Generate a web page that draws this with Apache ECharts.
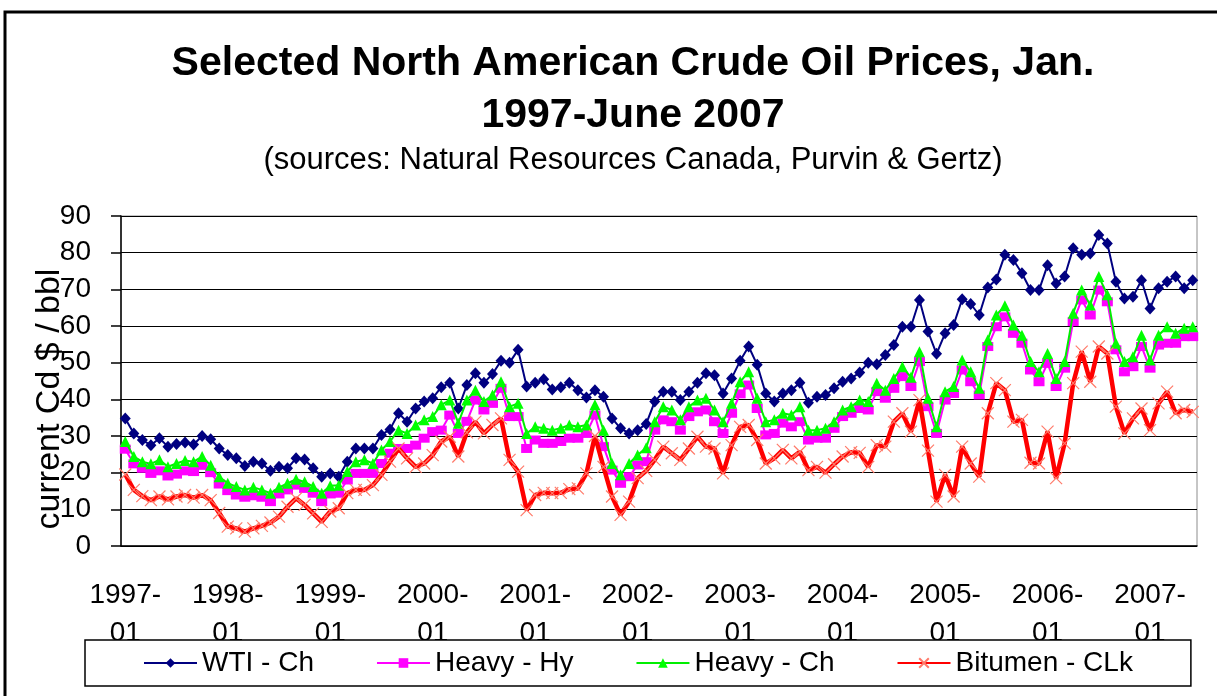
<!DOCTYPE html>
<html>
<head>
<meta charset="utf-8">
<script src="https://cdn.jsdelivr.net/npm/echarts@6/dist/echarts.min.js"></script>
<style>
html,body{margin:0;padding:0;background:#fff;}
#chart{width:1217px;height:696px;}
</style>
</head>
<body>
<div id="chart"></div>
<script>
// Monthly categories Jan 1997 .. Jun 2007
var startYear = 1997, endYear = 2007, endMonth = 6;
var categories = [];
for (var y = startYear; y <= endYear; y++) {
  for (var m = 1; m <= 12; m++) {
    if (y === endYear && m > endMonth) break;
    categories.push(y + '-' + (m < 10 ? '0' + m : '' + m));
  }
}

var yTicks = [0, 10, 20, 30, 40, 50, 60, 70, 80, 90];

var wtiCh = [
34.8,30.7,28.9,27.5,29.4,27.1,27.8,28.2,27.7,30.0,29.1,26.6,
24.8,23.9,21.8,23.0,22.5,20.5,21.6,21.2,23.9,23.6,21.2,18.9,
19.8,18.9,23.0,26.6,26.6,26.6,30.3,31.8,36.2,33.9,37.5,39.4,
40.3,43.3,44.5,37.5,43.9,47.1,44.5,46.9,50.5,50.0,53.5,43.5,
44.5,45.5,42.7,43.3,44.5,42.5,40.5,42.5,40.7,34.8,32.1,30.7,
31.6,33.3,39.4,42.1,42.1,39.8,42.1,44.5,47.1,46.6,41.6,45.7,
50.5,54.4,49.4,41.6,39.4,41.6,42.5,44.5,39.1,40.7,41.2,43.0,
44.8,45.7,47.3,50.0,49.6,52.1,54.8,59.8,59.8,67.1,58.5,52.4,
58.0,60.3,67.3,66.0,63.0,70.5,72.7,79.4,78.0,74.4,69.8,69.8,
76.6,71.6,73.5,81.2,79.4,79.8,84.8,82.5,72.1,67.5,68.0,72.5,
64.8,70.3,72.1,73.5,70.3,72.5
];

var heavyHy = [
26.4,22.4,21.2,19.8,20.5,19.1,19.6,20.5,20.3,22.0,20.0,16.9,
15.1,13.9,13.3,13.7,13.3,12.1,14.2,15.3,16.6,15.7,14.4,12.1,
14.2,14.4,18.0,19.8,19.8,19.8,22.5,25.3,26.6,26.6,27.5,29.4,
31.2,31.6,35.7,30.7,34.0,39.8,37.1,38.9,43.0,35.3,35.3,26.6,
28.9,28.0,28.0,28.5,29.4,29.4,30.7,35.7,27.1,20.7,17.1,18.9,
22.1,23.0,31.6,34.4,33.9,31.6,35.3,36.6,37.1,33.9,30.7,36.2,
41.5,43.9,37.5,30.3,30.7,33.5,32.5,33.9,28.9,29.4,29.4,32.1,
35.3,36.2,37.5,37.1,42.1,40.3,43.0,46.2,43.5,50.3,38.0,30.7,
39.8,41.6,48.0,44.8,41.2,54.4,59.8,62.5,58.0,55.3,48.0,44.8,
49.8,43.5,48.5,61.2,67.1,63.0,69.8,66.6,53.5,47.5,48.9,54.4,
48.5,54.8,55.3,55.3,57.1,57.1
];

var heavyCh = [
28.5,24.4,23.0,22.4,23.5,21.6,22.5,23.3,23.0,24.4,22.0,18.9,
17.1,16.2,15.3,16.0,15.3,14.4,16.0,17.1,18.2,17.5,16.2,14.4,
16.4,16.6,20.3,23.0,23.5,22.5,26.2,28.5,31.6,30.7,33.0,34.4,
35.3,38.5,39.8,33.5,39.8,42.5,39.4,41.2,44.8,38.0,38.9,30.7,
32.5,32.1,31.6,32.1,33.0,32.5,33.0,38.5,31.6,22.5,19.4,22.5,
24.8,26.8,33.9,38.0,37.1,34.4,38.0,39.8,40.3,37.1,33.9,38.9,
44.8,47.5,40.3,33.9,34.4,36.2,35.7,38.0,31.6,31.6,32.1,33.9,
37.1,38.0,39.8,39.4,44.4,42.5,45.7,48.9,46.0,53.0,40.3,32.5,
42.1,43.5,50.7,47.5,43.0,56.2,63.0,65.5,60.3,57.5,50.3,47.5,
52.5,45.7,50.3,63.5,69.8,65.7,73.5,68.5,55.3,50.3,51.6,57.5,
50.7,57.5,59.8,58.0,59.4,59.8
];

var bitumenCLk = [
19.5,15.3,13.6,12.5,13.5,12.7,13.5,13.9,13.2,13.9,12.5,9.0,
5.3,4.8,3.9,4.8,5.5,6.4,8.0,10.7,13.0,11.2,8.9,6.6,
9.4,10.3,14.4,15.3,15.3,16.6,19.4,23.0,26.6,23.9,21.6,22.5,
24.8,28.5,29.8,24.4,31.0,33.9,30.7,33.0,34.8,23.5,20.3,9.8,
13.9,14.5,14.4,14.5,15.5,15.7,19.8,30.0,21.6,13.5,8.5,12.1,
18.5,20.5,23.5,27.1,25.3,23.5,26.6,29.8,27.1,26.6,19.8,27.5,
32.5,33.0,28.9,22.5,23.9,26.2,23.9,25.7,20.7,21.6,20.0,22.3,
24.4,25.6,25.4,21.6,27.5,27.1,33.9,36.2,31.2,39.8,26.0,12.1,
19.4,13.5,27.1,22.5,18.9,36.2,44.4,42.5,33.9,34.4,22.7,22.5,
31.2,18.5,28.0,44.4,53.0,44.8,54.4,52.5,38.0,30.7,34.8,37.5,
31.6,38.9,42.1,36.2,37.1,36.6
];

var seriesNames = ['WTI - Ch', 'Heavy - Hy', 'Heavy - Ch', 'Bitumen - CLk'];

var FONT = "'Liberation Sans', Arial, sans-serif";
var chart = echarts.init(document.getElementById('chart'), null, {renderer: 'canvas'});

var option = {
  backgroundColor: '#ffffff',
  animation: false,
  title: {
    text: 'Selected North American Crude Oil Prices, Jan.\n1997-June 2007',
    subtext: '(sources: Natural Resources Canada, Purvin & Gertz)',
    left: 628,
    textAlign: 'center',
    top: 33,
    itemGap: 0,
    textStyle: {fontFamily: FONT, fontSize: 41, fontWeight: 'bold', color: '#000', lineHeight: 52},
    subtextStyle: {fontFamily: FONT, fontSize: 31, color: '#000', lineHeight: 36}
  },
  graphic: [{
    type: 'rect',
    shape: {x: 5, y: 12, width: 1400, height: 900},
    style: {fill: 'none', stroke: '#000', lineWidth: 3},
    silent: true,
    z: 100
  }],
  legend: {
    data: seriesNames,
    left: 85,
    top: 640,
    padding: [9, 58, 9, 58],
    itemGap: 62,
    itemWidth: 53,
    itemHeight: 12,
    borderColor: '#000',
    borderWidth: 1.5,
    backgroundColor: '#ffffff',
    textStyle: {fontFamily: FONT, fontSize: 28, color: '#000'},
    z: 10
  },
  grid: {
    left: 121, right: 20, top: 216, bottom: 150,
    show: true, borderColor: '#8c8c8c', borderWidth: 1, backgroundColor: 'transparent'
  },
  xAxis: {
    type: 'category',
    data: categories,
    boundaryGap: true,
    axisLine: {lineStyle: {color: '#000', width: 1.5}},
    axisTick: {interval: 11, length: 10, lineStyle: {color: '#000', width: 1.5}},
    axisLabel: {
      interval: 11,
      fontFamily: FONT, fontSize: 28, color: '#000', lineHeight: 38, margin: 30,
      formatter: function (v) { return v.replace('-', '-\n'); }
    },
    splitLine: {show: false}
  },
  yAxis: {
    type: 'value',
    min: yTicks[0], max: yTicks[yTicks.length - 1], interval: 10,
    name: 'current Cd $ / bbl',
    nameLocation: 'middle',
    nameRotate: 90,
    nameGap: 54,
    nameMoveOverlap: false,
    nameTextStyle: {fontFamily: FONT, fontSize: 34, color: '#000', padding: [0, 36, 0, 0]},
    axisLine: {show: true, lineStyle: {color: '#000', width: 1.5}},
    axisTick: {show: true, length: 10, lineStyle: {color: '#000', width: 1.5}},
    axisLabel: {fontFamily: FONT, fontSize: 28, color: '#000', margin: 30},
    splitLine: {lineStyle: {color: '#000', width: 1}}
  },
  series: [
    {
      name: seriesNames[0], type: 'line', data: wtiCh,
      symbol: 'diamond', symbolSize: [11, 12], showAllSymbol: true,
      itemStyle: {color: '#000080'},
      lineStyle: {color: '#000080', width: 2},
      z: 2
    },
    {
      name: seriesNames[1], type: 'line', data: heavyHy,
      symbol: 'rect', symbolSize: [11, 9], showAllSymbol: true,
      itemStyle: {color: '#ff00ff'},
      lineStyle: {color: '#ff00ff', width: 2},
      z: 3
    },
    {
      name: seriesNames[2], type: 'line', data: heavyCh,
      symbol: 'triangle', symbolSize: [11, 11], showAllSymbol: true,
      itemStyle: {color: '#00ff00'},
      lineStyle: {color: '#00ee00', width: 2},
      z: 4
    },
    {
      name: seriesNames[3], type: 'line', data: bitumenCLk,
      symbol: 'path://M0,0L10,10M10,0L0,10', symbolSize: 12, showAllSymbol: true,
      itemStyle: {color: '#ff0000', borderColor: '#ff7a6a', borderWidth: 1.2},
      lineStyle: {color: '#ff0000', width: 4.5},
      z: 5
    }
  ]
};
chart.setOption(option);
</script>
</body>
</html>
